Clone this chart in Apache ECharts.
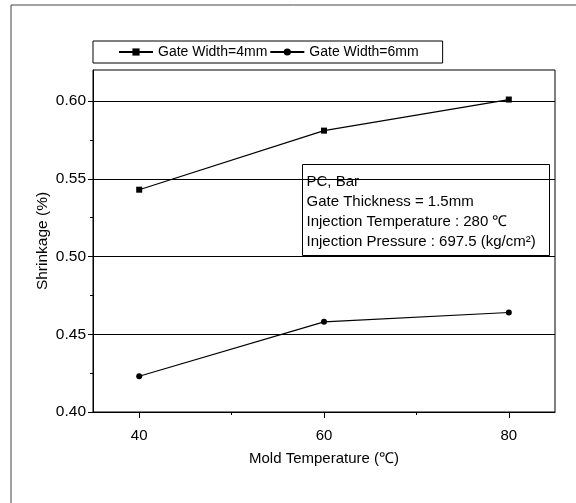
<!DOCTYPE html>
<html>
<head>
<meta charset="utf-8">
<script src="https://cdn.jsdelivr.net/npm/echarts@6/dist/echarts.min.js"></script>
<style>
  html, body { margin: 0; padding: 0; background: #fff; }
  #chart-container { width: 576px; height: 503px; }
</style>
</head>
<body>
<div id="chart-container"></div>
<script>
// mold temperature (°C) and measured shrinkage (%)
const temps = [40, 60, 80];
const shrink4mm = [0.543, 0.581, 0.601];
const shrink6mm = [0.423, 0.458, 0.464];

const seriesNames = ["Gate Width=4mm", "Gate Width=6mm"];

const xTickLabels = [40, 60, 80];
const xMinorTicks = [50, 70];
const yTickLabels = [0.40, 0.45, 0.50, 0.55, 0.60];
const yMinorTicks = [0.425, 0.475, 0.525, 0.575];

const noteLines = [
  "PC, Bar",
  "Gate Thickness = 1.5mm",
  "Injection Temperature : 280 ℃",
  "Injection Pressure : 697.5 (kg/cm²)",
];

const font = "'Liberation Sans', Arial, sans-serif";

const chartContainer = document.getElementById("chart-container");
const myChart = echarts.init(chartContainer, null, { renderer: "canvas" });

const toPoints = (vals) => temps.map((t, i) => [t, vals[i]]);

const option = {
  animation: false,
  backgroundColor: "#fff",
  textStyle: { fontFamily: font, color: "#000" },
  grid: {
    left: 93,
    right: 21,
    top: 70,
    bottom: 91,
    show: true,
    borderColor: "#000",
    borderWidth: 1,
  },
  legend: {
    left: 93,
    top: 41,
    padding: [4, 24, 4, 25],
    itemGap: 2,
    itemWidth: 34,
    itemHeight: 9,
    borderColor: "#000",
    borderWidth: 1,
    textStyle: { fontFamily: font, fontSize: 14, color: "#000" },
    data: seriesNames,
  },
  xAxis: [
    {
      type: "value",
      min: 35,
      max: 85,
      name: "Mold Temperature (℃)",
      nameLocation: "middle",
      nameGap: 39,
      nameMoveOverlap: false,
      nameTextStyle: { fontFamily: font, fontSize: 15, color: "#000" },
      axisLine: { lineStyle: { color: "#000", width: 1 } },
      axisTick: { customValues: xTickLabels, length: 6, lineStyle: { color: "#000" } },
      axisLabel: {
        customValues: xTickLabels,
        margin: 16,
        fontFamily: font,
        fontSize: 15,
        color: "#000",
      },
      splitLine: { show: false },
    },
    {
      type: "value",
      min: 35,
      max: 85,
      position: "bottom",
      axisLine: { show: false },
      axisTick: { customValues: xMinorTicks, length: 3, lineStyle: { color: "#000" } },
      axisLabel: { show: false },
      splitLine: { show: false },
    },
  ],
  yAxis: [
    {
      type: "value",
      min: 0.4,
      max: 0.62,
      position: "left",
      name: "Shrinkage (%)",
      nameLocation: "middle",
      nameGap: 42,
      nameMoveOverlap: false,
      nameTextStyle: { fontFamily: font, fontSize: 15.5, color: "#000" },
      axisLine: { show: true, lineStyle: { color: "#000", width: 1 } },
      axisTick: { show: true, customValues: yTickLabels, length: 5, lineStyle: { color: "#000" } },
      axisLabel: {
        customValues: yTickLabels,
        formatter: (v) => v.toFixed(2),
        margin: 7,
        fontFamily: font,
        fontSize: 15.5,
        color: "#000",
      },
      splitLine: { show: true, lineStyle: { color: "#000", width: 1 } },
    },
    {
      type: "value",
      min: 0.4,
      max: 0.62,
      position: "left",
      axisLine: { show: false },
      axisTick: { show: true, customValues: yMinorTicks, length: 3, lineStyle: { color: "#000" } },
      axisLabel: { show: false },
      splitLine: { show: false },
    },
  ],
  graphic: [
    {
      type: "polyline",
      shape: { points: [[11, 503], [11, 5], [576, 5]] },
      style: { stroke: "#444", lineWidth: 1, fill: null },
      silent: true,
    },
    {
      type: "group",
      left: 302,
      top: 164,
      children: [
        {
          type: "rect",
          shape: { x: 0, y: 0, width: 247, height: 91 },
          style: { fill: "#fff", stroke: "#000", lineWidth: 1 },
        },
        {
          type: "text",
          x: 4,
          y: 7,
          style: {
            text: noteLines.join("\n"),
            font: "15px " + font,
            lineHeight: 20,
            fill: "#000",
          },
        },
      ],
    },
  ],
  series: [
    {
      name: seriesNames[0],
      type: "line",
      data: toPoints(shrink4mm),
      symbol: "rect",
      symbolSize: 6,
      itemStyle: { color: "#000" },
      lineStyle: { color: "#000", width: 1.2 },
      z: 1,
    },
    {
      name: seriesNames[1],
      type: "line",
      data: toPoints(shrink6mm),
      symbol: "circle",
      symbolSize: 6,
      itemStyle: { color: "#000" },
      lineStyle: { color: "#000", width: 1.2 },
      z: 1,
    },
  ],
};

myChart.setOption(option);
</script>
</body>
</html>
